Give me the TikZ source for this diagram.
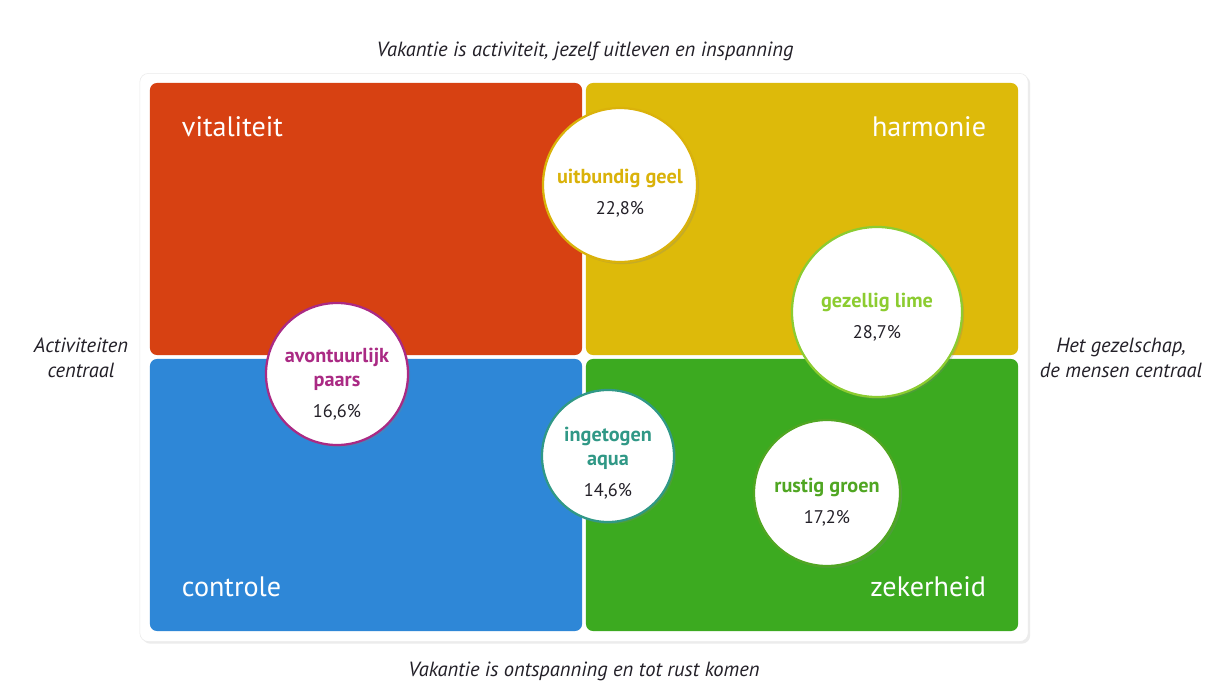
\documentclass[tikz,border=0pt]{standalone}
\usepackage{fontspec}
\setmainfont{PT Sans}
\usetikzlibrary{positioning,shadows}
\definecolor{vred}{RGB}{215,65,18}
\definecolor{vyellow}{RGB}{221,186,10}
\definecolor{vblue}{RGB}{46,135,215}
\definecolor{vgreen}{RGB}{60,170,32}
\definecolor{cgeel}{RGB}{218,178,10}
\definecolor{clime}{RGB}{140,204,48}
\definecolor{cpaars}{RGB}{170,42,132}
\definecolor{caqua}{RGB}{48,152,134}
\definecolor{cgroen}{RGB}{80,166,34}
\definecolor{ink}{RGB}{35,32,40}
\newcommand{\pct}[1]{\\[5pt]{\mdseries\fontsize{13}{17}\selectfont\color{ink}#1\%}}

\begin{document}
\begin{tikzpicture}[x=0.025cm, y=-0.025cm,
  panel/.style={fill=white, draw=black!8, rounded corners=6pt,
                minimum width=22.2cm, minimum height=14.2cm,
                drop shadow={opacity=0.15, shadow xshift=1.5pt, shadow yshift=-1.5pt}},
  quad/.style={fill=#1, rounded corners=5pt, inner sep=0pt,
               minimum width=10.8cm, minimum height=6.8cm},
  qlbl/.style={text=white, inner sep=0pt, font=\fontsize{20}{24}\selectfont},
  side/.style={align=center, text=ink, font=\itshape\fontsize{14.6}{17.5}\selectfont},
  bubble/.style={circle, draw=#1, line width=1.6pt, fill=white, inner sep=0pt,
                 drop shadow={opacity=0.25, shadow xshift=1.5pt, shadow yshift=-1.5pt}},
  bubtxt/.style={text=#1, align=center, inner sep=0pt,
                 font=\bfseries\fontsize{14.4}{17}\selectfont}
]
\useasboundingbox[fill=white] (0,0) rectangle (1216,697);
\node[panel] (panel) at (584,357.5) {};

\node[quad=vred] (vit) at (366,219) {};
\node[quad=vyellow] (harm) at (802,219) {};
\node[quad=vblue] (ctrl) at (366,495) {};
\node[quad=vgreen] (zek) at (802,495) {};

\node[qlbl, below right=0.85cm and 0.8cm of vit.north west] (vitlbl) {vitaliteit};
\node[qlbl, below left=0.85cm and 0.8cm of harm.north east] (harmlbl) {harmonie};
\node[qlbl, above right=0.85cm and 0.8cm of ctrl.south west] (ctrllbl) {controle};
\node[qlbl, above left=0.85cm and 0.8cm of zek.south east] (zeklbl) {zekerheid};

\node[bubble=cgeel, minimum size=3.85cm] (geel) at (620,185) {};
\node[bubble=clime, minimum size=4.25cm] (lime) at (877,312) {};
\node[bubble=cpaars, minimum size=3.55cm] (paars) at (337,374) {};
\node[bubble=caqua, minimum size=3.3cm] (aqua) at (608,456) {};
\node[bubble=cgroen, minimum size=3.65cm] (groen) at (827,493) {};

\node[bubtxt=cgeel, below=-0.4cm of geel.center] (geeltxt)
  {uitbundig geel\pct{22,8}};
\node[bubtxt=clime, below=-0.475cm of lime.center] (limetxt)
  {gezellig lime\pct{28,7}};
\node[bubtxt=cpaars, below=-0.65cm of paars.center] (paarstxt)
  {avontuurlijk\\paars\pct{16,6}};
\node[bubtxt=caqua, below=-0.725cm of aqua.center] (aquatxt)
  {ingetogen\\aqua\pct{14,6}};
\node[bubtxt=cgroen, below=-0.375cm of groen.center] (groentxt)
  {rustig groen\pct{17,2}};

\node[side] (top) at (585,51) {Vakantie is activiteit, jezelf uitleven en inspanning};
\node[side] (bottom) at (584,671) {Vakantie is ontspanning en tot rust komen};
\node[side] (left) at (81,358) {Activiteiten\\centraal};
\node[side] (right) at (1121,358) {Het gezelschap,\\de mensen centraal};
\end{tikzpicture}
\end{document}
